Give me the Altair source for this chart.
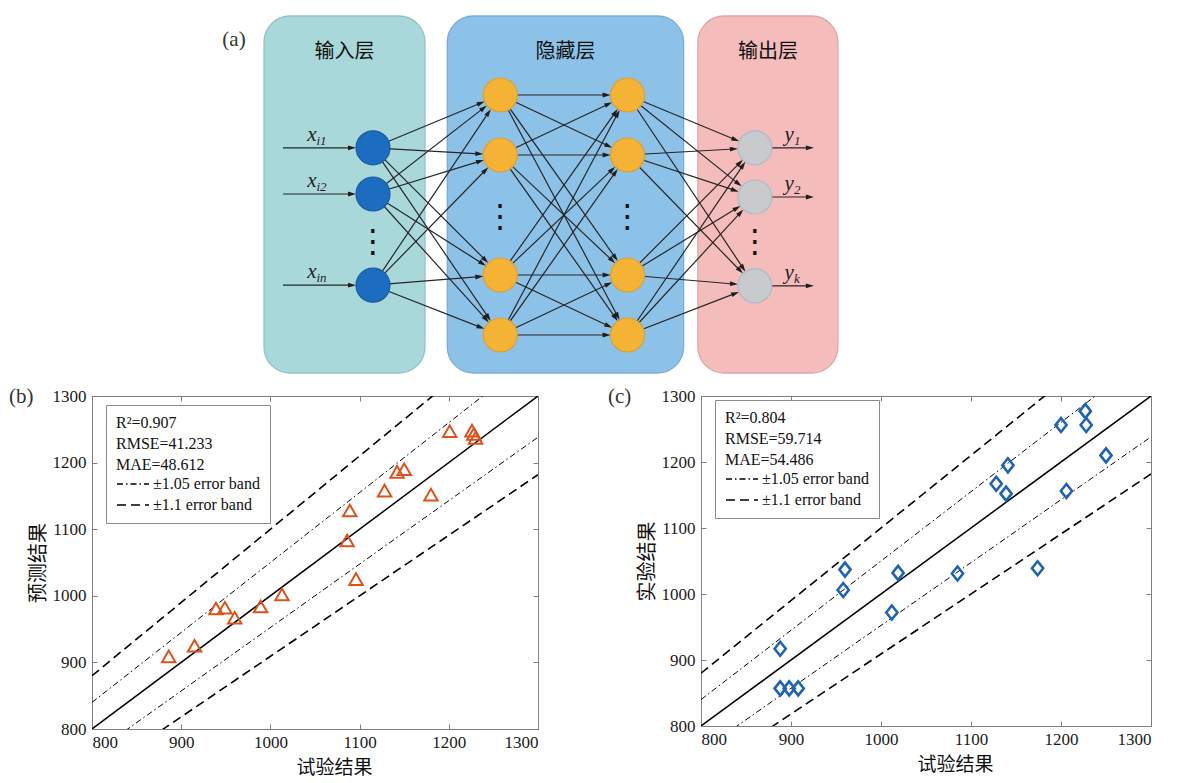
import math
import altair as alt
import pandas as pd

# ===================== DATA =====================
GROUP_NAMES = ["输入层", "隐藏层", "输出层"]
GROUP_LAYERS = [[0], [1, 2], [3]]
LAYER_ROLES = ["input", "hidden", "hidden", "output"]
LAYER_ROWS = [
    [0.88, 1.65, 3.17],
    [0.0, 1.0, 3.0, 4.0],
    [0.0, 1.0, 3.0, 4.0],
    [0.88, 1.70, 3.18],
]
ELLIPSIS_ROWS = [2.45, 2.03, 2.03, 2.45]
INPUT_SUBS = ["i1", "i2", "in"]
OUTPUT_SUBS = ["1", "2", "k"]
PANEL_LABELS = ["(a)", "(b)", "(c)"]

B_TEST = [886, 915, 939, 949, 960, 989, 1013, 1086, 1089, 1096, 1128, 1142, 1150, 1180, 1201, 1226, 1228, 1230]
B_PRED = [909, 925, 981, 982, 967, 984, 1002, 1083, 1128, 1025, 1158, 1186, 1190, 1152, 1247, 1248, 1243, 1237]
B_STATS = ["R²=0.907", "RMSE=41.233", "MAE=48.612"]

C_TEST = [888, 888, 898, 908, 958, 960, 1012, 1019, 1085, 1128, 1139, 1141, 1174, 1200, 1206, 1227, 1228, 1250]
C_EXP = [917, 857, 857, 857, 1006, 1037, 972, 1032, 1031, 1167, 1152, 1195, 1039, 1256, 1156, 1277, 1256, 1210]
C_STATS = ["R²=0.804", "RMSE=59.714", "MAE=54.486"]

BAND_NAMES = ["±1.05 error band", "±1.1 error band"]
BAND_FACTORS = [1.05, 1.1]
AXIS_RANGE = [800, 1300]
AXIS_TICKS = [800, 900, 1000, 1100, 1200, 1300]
X_TITLE = "试验结果"
B_Y_TITLE = "预测结果"
C_Y_TITLE = "实验结果"

# ===================== STYLE / LAYOUT =====================
SERIF = "Liberation Serif"
CJK = "Noto Sans CJK SC"
FRAME = "#808080"

# panel (a) origin is aligned with panel (b)'s plot origin (83 px from the left)
A_W, A_H = 1070, 370
A_X0_PX, A_DX_PX = 281.0, 127.3
A_Y0_PX, A_DY_PX = 87.0, 60.0
A_XDOM = [-A_X0_PX / A_DX_PX, (A_W - A_X0_PX) / A_DX_PX]
A_YDOM = [-A_Y0_PX / A_DY_PX, (A_H - A_Y0_PX) / A_DY_PX]
KX, KY = A_DX_PX, A_DY_PX

BOX_PAD_L = [109, 53, 57]
BOX_PAD_R = [52, 56, 83]
BOX_TOP_PX, BOX_BOT_PX = 8, 365
BOX_TITLE_DROP = 36
BOX_FILLS = ["#a9d8da", "#8cc2e8", "#f5bcbc"]
BOX_STROKES = ["#93c2c6", "#79add6", "#dca6a6"]
ROLES = ["input", "hidden", "output"]
NODE_FILLS = ["#1c6cc0", "#f5b335", "#c8cacc"]
NODE_STROKES = ["#1a5d9f", "#d9a03a", "#a9bccb"]
NODE_R = 17
STUB_IN_PX, STUB_OUT_PX = 90, 59
HEAD_LEN = 8
ARROW_SHAPE = "M1,0L-1,-0.6L-1,0.6Z"


def px_y(px):
    return A_YDOM[0] + px / KY


def arrow(l1, r1, l2, r2, rad):
    dxp = (l2 - l1) * KX
    dyp = (r2 - r1) * KY
    ln = math.hypot(dxp, dyp)
    ux, uy = dxp / ln, dyp / ln
    back = rad + HEAD_LEN / 2
    return {"l1": l1, "r1": r1, "le": l2 - back * ux / KX, "re": r2 - back * uy / KY,
            "ang": math.degrees(math.atan2(dyp, dxp)) % 360}


boxes = []
for gi, name in enumerate(GROUP_NAMES):
    first, last = GROUP_LAYERS[gi][0], GROUP_LAYERS[gi][-1]
    l0 = first - BOX_PAD_L[gi] / KX
    l1 = last + BOX_PAD_R[gi] / KX
    boxes.append({"name": name, "l0": l0, "l1": l1,
                  "r0": px_y(BOX_TOP_PX), "r1": px_y(BOX_BOT_PX),
                  "cx": (l0 + l1) / 2, "ty": px_y(BOX_TOP_PX + BOX_TITLE_DROP)})
boxes_df = pd.DataFrame(boxes)

nodes_df = pd.DataFrame([{"layer": li, "row": r, "role": LAYER_ROLES[li]}
                         for li, rows in enumerate(LAYER_ROWS) for r in rows])

arrows = []
for li in range(len(LAYER_ROWS) - 1):
    for a in LAYER_ROWS[li]:
        for b in LAYER_ROWS[li + 1]:
            arrows.append(arrow(li, a, li + 1, b, NODE_R))
last_layer = len(LAYER_ROWS) - 1
for r in LAYER_ROWS[0]:
    arrows.append(arrow(-STUB_IN_PX / KX, r, 0, r, NODE_R))
for r in LAYER_ROWS[last_layer]:
    arrows.append(arrow(last_layer, r, last_layer + STUB_OUT_PX / KX, r, 0))
arrows_df = pd.DataFrame(arrows)

dots_df = pd.DataFrame({"layer": list(range(len(ELLIPSIS_ROWS))), "row": ELLIPSIS_ROWS,
                        "t": ["⋮"] * len(ELLIPSIS_ROWS)})
in_mid = -(STUB_IN_PX + NODE_R) / 2 / KX
out_mid = last_layer + (NODE_R + STUB_OUT_PX) / 2 / KX
in_lab_df = pd.DataFrame({"l": [in_mid] * len(INPUT_SUBS), "row": LAYER_ROWS[0],
                          "main": ["x"] * len(INPUT_SUBS), "sub": INPUT_SUBS})
out_lab_df = pd.DataFrame({"l": [out_mid] * len(OUTPUT_SUBS), "row": LAYER_ROWS[last_layer],
                           "main": ["y"] * len(OUTPUT_SUBS), "sub": OUTPUT_SUBS})
alabel_df = pd.DataFrame({"l": [boxes[0]["l0"] - 30 / KX], "row": [px_y(BOX_TOP_PX + 24)], "t": [PANEL_LABELS[0]]})

AX = alt.Scale(domain=A_XDOM, nice=False, zero=False)
AY = alt.Scale(domain=A_YDOM, nice=False, zero=False, reverse=True)


def ax(f):
    return alt.X(f, type="quantitative", scale=AX, axis=None)


def ay(f):
    return alt.Y(f, type="quantitative", scale=AY, axis=None)


box_layer = alt.Chart(boxes_df).mark_rect(cornerRadius=26, strokeWidth=1.3).encode(
    x=ax("l0"), x2="l1", y=ay("r0"), y2="r1",
    fill=alt.Fill("name:N", scale=alt.Scale(domain=GROUP_NAMES, range=BOX_FILLS), legend=None),
    stroke=alt.Stroke("name:N", scale=alt.Scale(domain=GROUP_NAMES, range=BOX_STROKES), legend=None),
)
box_title = alt.Chart(boxes_df).mark_text(font=CJK, fontSize=20, color="#111", baseline="middle").encode(
    x=ax("cx"), y=ay("ty"), text="name:N")
edge_layer = alt.Chart(arrows_df).mark_rule(color="#262626", strokeWidth=1.2).encode(
    x=ax("l1"), y=ay("r1"), x2="le", y2="re")
head_layer = alt.Chart(arrows_df).mark_point(shape=ARROW_SHAPE, filled=True, color="#1e1e1e", opacity=1,
                                             size=HEAD_LEN ** 2, strokeWidth=0).encode(
    x=ax("le"), y=ay("re"), angle=alt.Angle("ang:Q", scale=None))
node_layer = alt.Chart(nodes_df).mark_circle(size=(2 * NODE_R) ** 2, opacity=1, strokeWidth=1.2).encode(
    x=ax("layer"), y=ay("row"),
    fill=alt.Fill("role:N", scale=alt.Scale(domain=ROLES, range=NODE_FILLS), legend=None),
    stroke=alt.Stroke("role:N", scale=alt.Scale(domain=ROLES, range=NODE_STROKES), legend=None),
)
dot_layer = alt.Chart(dots_df).mark_text(font="DejaVu Sans", fontSize=32, color="#111",
                                         baseline="middle").encode(
    x=ax("layer"), y=ay("row"), text="t:N")
in_main = alt.Chart(in_lab_df).mark_text(font=SERIF, fontStyle="italic", fontSize=21, color="#222",
                                         align="right", baseline="alphabetic", dx=-3, dy=-7).encode(
    x=ax("l"), y=ay("row"), text="main:N")
in_sub = alt.Chart(in_lab_df).mark_text(font=SERIF, fontStyle="italic", fontSize=13, color="#222",
                                        align="left", baseline="alphabetic", dx=-3, dy=-3).encode(
    x=ax("l"), y=ay("row"), text="sub:N")
out_main = alt.Chart(out_lab_df).mark_text(font=SERIF, fontStyle="italic", fontSize=21, color="#222",
                                           align="right", baseline="alphabetic", dx=1, dy=-7).encode(
    x=ax("l"), y=ay("row"), text="main:N")
out_sub = alt.Chart(out_lab_df).mark_text(font=SERIF, fontStyle="italic", fontSize=13, color="#222",
                                          align="left", baseline="alphabetic", dx=1, dy=-3).encode(
    x=ax("l"), y=ay("row"), text="sub:N")
a_label = alt.Chart(alabel_df).mark_text(font=SERIF, fontSize=21, color="#333", baseline="middle").encode(
    x=ax("l"), y=ay("row"), text="t:N")

panel_a = alt.layer(box_layer, box_title, edge_layer, head_layer, node_layer, dot_layer,
                    in_main, in_sub, out_main, out_sub, a_label).resolve_scale(
    fill="independent", stroke="independent").properties(
    width=A_W, height=A_H, view=alt.ViewBackground(stroke=None))


def scatter_panel(xs, ys, stats, letter, letter_dx, ytitle, shape, color, msize, mstroke, w, h,
                  legend_y, tshift):
    pts = pd.DataFrame({"test": xs, "val": ys})
    sc = alt.Scale(domain=AXIS_RANGE, nice=False, zero=False)
    common = dict(values=AXIS_TICKS, format="d", labelFont=SERIF, labelFontSize=17, labelColor="#1a1a1a",
                  domain=False, grid=False, ticks=True, tickSize=5, tickColor=FRAME, tickWidth=1,
                  offset=-5, titleFont=CJK, titleFontWeight="normal", titleColor="#111")
    xaxis = alt.Axis(title=X_TITLE, labelPadding=5, titleX=w / 2 + tshift, titleY=43, titleFontSize=19,
                     titleBaseline="middle", **common)
    yaxis = alt.Axis(title=ytitle, labelPadding=6, titlePadding=4, titleFontSize=20, **common)
    edge_ax = dict(values=AXIS_TICKS, labels=False, title=None, domain=False, grid=False, ticks=True,
                   tickSize=5, tickColor=FRAME, tickWidth=1, offset=-5)

    def X(f):
        return alt.X(f, type="quantitative", scale=sc, axis=xaxis)

    def Y(f):
        return alt.Y(f, type="quantitative", scale=sc, axis=yaxis)

    diag = pd.DataFrame({"xa": [AXIS_RANGE[0]], "xb": [AXIS_RANGE[1]],
                         "ya": [AXIS_RANGE[0]], "yb": [AXIS_RANGE[1]]})
    band_tables = []
    for name, f in zip(BAND_NAMES, BAND_FACTORS):
        rows = []
        for d in (1, -1):
            k = f ** d
            rows.append({"band": name, "xa": AXIS_RANGE[0], "xb": AXIS_RANGE[1],
                         "ya": AXIS_RANGE[0] * k, "yb": AXIS_RANGE[1] * k})
        band_tables.append(pd.DataFrame(rows))
    corner = pd.DataFrame({"x": [AXIS_RANGE[0]], "y": [AXIS_RANGE[1]], "t": [letter]})

    legend = alt.Legend(
        title=stats, orient="none", legendX=14, legendY=legend_y,
        symbolType="stroke", symbolSize=1024, symbolStrokeColor="black", symbolStrokeWidth=1.3,
        clipHeight=16, rowPadding=5, labelOffset=3,
        labelFont=SERIF, labelFontSize=16, labelColor="#111",
        titleFont=SERIF, titleFontSize=16, titleFontWeight="normal", titleColor="#111",
        titleLineHeight=21, titlePadding=3, padding=10, titleLimit=400, labelLimit=400,
        strokeColor="#8a8a8a", fillColor="white",
    )
    dash = alt.StrokeDash("band:N", scale=alt.Scale(domain=BAND_NAMES, range=[[6, 3, 1.5, 3], [9, 5]]),
                          legend=legend)

    diag_layer = alt.Chart(diag).mark_rule(color="black", strokeWidth=1.5, clip=True).encode(
        x=X("xa"), x2="xb", y=Y("ya"), y2="yb")
    b1 = alt.Chart(band_tables[0]).mark_rule(color="black", strokeWidth=1.0, clip=True).encode(
        x=X("xa"), x2="xb", y=Y("ya"), y2="yb", strokeDash=dash)
    b2 = alt.Chart(band_tables[1]).mark_rule(color="black", strokeWidth=1.6, clip=True).encode(
        x=X("xa"), x2="xb", y=Y("ya"), y2="yb", strokeDash=dash)
    pts_layer = alt.Chart(pts).mark_point(shape=shape, filled=False, color=color, size=msize,
                                          strokeWidth=mstroke, opacity=1).encode(x=X("test"), y=Y("val"))
    letter_layer = alt.Chart(corner).mark_text(font=SERIF, fontSize=21, color="#333", align="left",
                                               baseline="middle", dx=letter_dx, dy=1).encode(
        x=X("x"), y=Y("y"), text="t:N")
    main = alt.layer(diag_layer, b1, b2, pts_layer, letter_layer)
    ticks = alt.Chart(pts).mark_point(opacity=0).encode(
        x=alt.X("test:Q", scale=sc, axis=alt.Axis(orient="top", **edge_ax)),
        y=alt.Y("val:Q", scale=sc, axis=alt.Axis(orient="right", **edge_ax)),
    )
    return alt.layer(main, ticks).resolve_axis(x="independent", y="independent").properties(
        width=w, height=h)


panel_b = scatter_panel(B_TEST, B_PRED, B_STATS, PANEL_LABELS[1], -83, B_Y_TITLE, "triangle-up", "#d9541c",
                        180, 2.0, 446, 333, 9, 19)
panel_c = scatter_panel(C_TEST, C_EXP, C_STATS, PANEL_LABELS[2], -93, C_Y_TITLE, "M-0.8,0L0,-1L0.8,0L0,1Z",
                        "#1f63b3", 196, 2.6, 450, 330, 4, 29)

bottom = alt.hconcat(panel_b, panel_c, spacing=68).resolve_scale(
    strokeDash="independent").resolve_legend(strokeDash="independent")

chart = alt.concat(panel_a, bottom, columns=1, align="none", spacing=7).resolve_scale(
    strokeDash="independent").resolve_legend(strokeDash="independent").properties(
    padding=0, background="white").configure_view(stroke=FRAME, strokeWidth=1)

chart.save("out.html", embed_options={"renderer": "svg", "actions": False})
